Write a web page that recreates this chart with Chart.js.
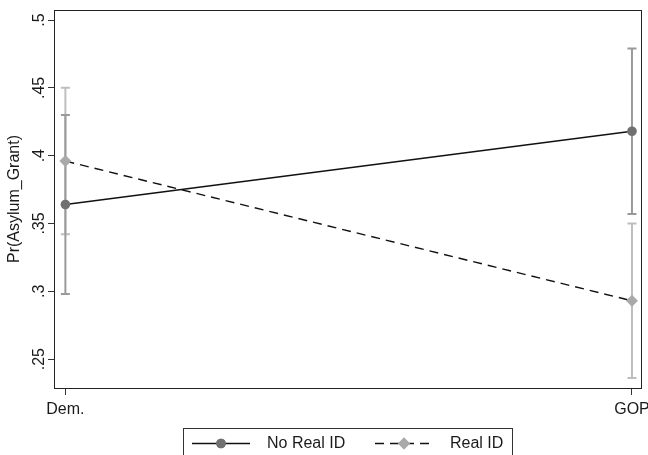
<!DOCTYPE html>
<html>
<head>
<meta charset="utf-8">
<script src="https://cdn.jsdelivr.net/npm/chart.js@4"></script>
<style>
  body { margin: 0; background: #fff; }
  canvas { display: block; }
</style>
</head>
<body>
<canvas id="chart" width="648" height="455"></canvas>
<script>
// categories and values
const categories = ['Dem.', 'GOP'];
const seriesNames = ['No Real ID', 'Real ID'];

const noRealId   = [0.364, 0.418];
const noRealIdLo = [0.298, 0.357];
const noRealIdHi = [0.430, 0.479];

const realId   = [0.396, 0.293];
const realIdLo = [0.342, 0.236];
const realIdHi = [0.450, 0.350];

const yTicks = [0.25, 0.3, 0.35, 0.4, 0.45, 0.5];
const yTickLabels = ['.25', '.3', '.35', '.4', '.45', '.5'];

const FONT = 'Liberation Sans, Arial, Helvetica, sans-serif';
const INK = '#1a1a1a';

// points for the two line datasets
function toPoints(values) {
    return values.map((v, i) => ({ x: i, y: v }));
}

// error bars, frame, rotated y labels and the legend
const stataPlugin = {
    id: 'stata',
    beforeDatasetsDraw(chart) {
        const ctx = chart.ctx;
        const xs = chart.scales.x, ys = chart.scales.y;
        const bars = [
            { lo: realIdLo, hi: realIdHi, color: '#bebebe' },
            { lo: noRealIdLo, hi: noRealIdHi, color: '#9a9a9a' }
        ];
        ctx.save();
        bars.forEach(b => {
            ctx.strokeStyle = b.color;
            ctx.lineWidth = 2;
            b.lo.forEach((lo, i) => {
                const x = xs.getPixelForValue(i);
                const y1 = ys.getPixelForValue(lo);
                const y2 = ys.getPixelForValue(b.hi[i]);
                ctx.beginPath();
                ctx.moveTo(x, y1); ctx.lineTo(x, y2);
                ctx.moveTo(x - 4.5, y1); ctx.lineTo(x + 4.5, y1);
                ctx.moveTo(x - 4.5, y2); ctx.lineTo(x + 4.5, y2);
                ctx.stroke();
            });
        });
        ctx.restore();
    },
    afterDraw(chart) {
        const ctx = chart.ctx;
        const a = chart.chartArea;
        const ys = chart.scales.y;
        ctx.save();

        // plot region frame
        ctx.strokeStyle = '#222';
        ctx.lineWidth = 1;
        ctx.strokeRect(Math.round(a.left) + 0.5, Math.round(a.top) + 0.5,
            Math.round(a.right - a.left) - 1, Math.round(a.bottom - a.top));

        // y tick labels, vertical as in Stata
        ctx.fillStyle = INK;
        ctx.font = '16px ' + FONT;
        ctx.textAlign = 'center';
        ctx.textBaseline = 'alphabetic';
        yTicks.forEach((t, i) => {
            const y = ys.getPixelForValue(t);
            ctx.save();
            ctx.translate(a.left - 10, y);
            ctx.rotate(-Math.PI / 2);
            ctx.fillText(yTickLabels[i], 0, 0);
            ctx.restore();
        });

        // legend
        const lx = 183, ly = 428;
        ctx.strokeStyle = '#333';
        ctx.strokeRect(lx + 0.5, ly + 0.5, 329, 40);
        const cy = 443.5;
        const items = [
            { x0: 192, tx: 267, ds: chart.data.datasets[0] },
            { x0: 375, tx: 450, ds: chart.data.datasets[1] }
        ];
        items.forEach(it => {
            const ds = it.ds;
            ctx.strokeStyle = ds.borderColor;
            ctx.lineWidth = ds.borderWidth;
            ctx.setLineDash(ds.borderDash || []);
            ctx.beginPath();
            ctx.moveTo(it.x0, cy); ctx.lineTo(it.x0 + 58, cy);
            ctx.stroke();
            ctx.setLineDash([]);
            ctx.fillStyle = ds.pointBackgroundColor;
            Chart.helpers.drawPoint(ctx, {
                pointStyle: ds.pointStyle, radius: ds.pointRadius, rotation: 0, borderWidth: 0
            }, it.x0 + 29, cy);
            ctx.fill();
            ctx.fillStyle = INK;
            ctx.textAlign = 'left';
            ctx.textBaseline = 'middle';
            ctx.fillText(ds.label, it.tx, cy);
        });
        ctx.restore();
    }
};

new Chart(document.getElementById('chart'), {
    type: 'line',
    data: {
        datasets: [{
            label: seriesNames[0],
            data: toPoints(noRealId),
            borderColor: '#111',
            borderWidth: 1.4,
            pointStyle: 'circle',
            pointRadius: 4.8,
            pointBackgroundColor: '#707070',
            pointBorderWidth: 0,
            order: 1
        }, {
            label: seriesNames[1],
            data: toPoints(realId),
            borderColor: '#111',
            borderWidth: 1.4,
            borderDash: [9, 6],
            pointStyle: 'rectRot',
            pointRadius: 6,
            pointBackgroundColor: '#a9a9a9',
            pointBorderWidth: 0,
            order: 2
        }]
    },
    options: {
        responsive: false,
        animation: false,
        layout: { padding: { top: 10, right: 5, bottom: 0, left: 0 } },
        plugins: { legend: { display: false }, tooltip: { enabled: false } },
        scales: {
            x: {
                type: 'linear',
                min: -0.0201,
                max: 1.0177,
                afterBuildTicks: s => { s.ticks = categories.map((c, i) => ({ value: i })); },
                afterFit: s => { s.height = 67; s.paddingLeft = 0; s.paddingRight = 0; },
                ticks: {
                    callback: v => categories[v],
                    font: { size: 16, family: FONT },
                    color: INK,
                    padding: 5,
                    maxRotation: 0,
                    autoSkip: false
                },
                grid: { display: true, drawOnChartArea: false, drawTicks: true, tickLength: 7, color: '#333' },
                border: { display: false }
            },
            y: {
                min: 0.2287,
                max: 0.5074,
                afterBuildTicks: s => { s.ticks = yTicks.map(v => ({ value: v })); },
                afterFit: s => { s.width = 54; },
                ticks: { display: false },
                grid: { display: true, drawOnChartArea: false, drawTicks: true, tickLength: 6, color: '#333' },
                border: { display: false },
                title: {
                    display: true,
                    text: 'Pr(Asylum_Grant)',
                    font: { size: 16, family: FONT },
                    color: INK,
                    padding: { top: 5, bottom: 0 }
                }
            }
        }
    },
    plugins: [stataPlugin]
});
</script>
</body>
</html>
